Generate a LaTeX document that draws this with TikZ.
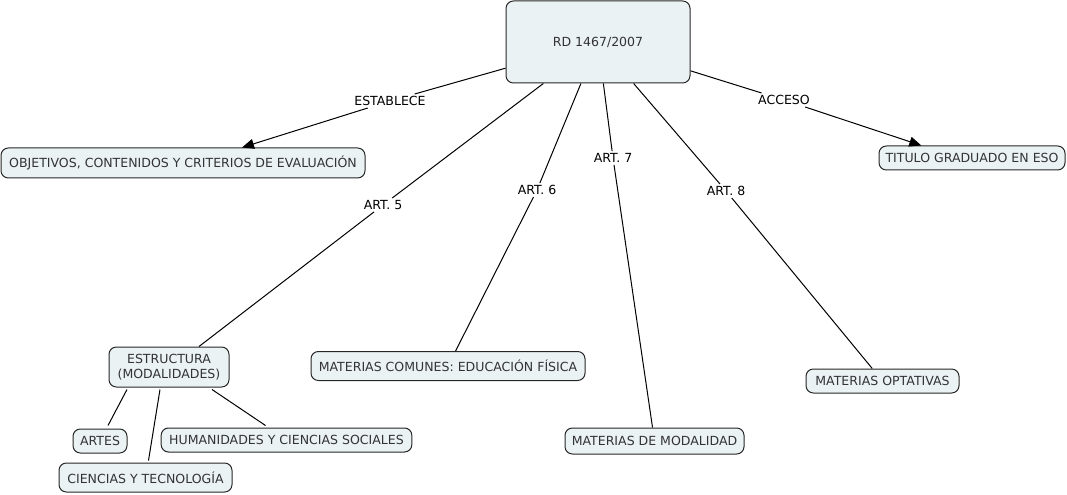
\documentclass[tikz,border=0pt]{standalone}
\usepackage{fontspec}
\setmainfont{DejaVu Sans}
\usetikzlibrary{arrows.meta}
\definecolor{boxfill}{HTML}{EBF2F4}
\definecolor{boxtext}{HTML}{333333}
\tikzset{
  concept/.style={draw=black!85, fill=boxfill, rounded corners=5.5pt, line width=0.75pt,
    text=boxtext, font=\fontsize{9.4}{11.2}\selectfont, align=center, inner sep=0pt},
  linklabel/.style={font=\fontsize{9.4}{10}\selectfont, text=black, inner sep=1.5pt, fill=white},
  link/.style={line width=0.75pt, draw=black},
  arrowlink/.style={link, -{Triangle[length=9pt,width=7.5pt]}}
}
\begin{document}
\begin{tikzpicture}[x=0.75pt,y=-0.75pt]
\useasboundingbox (0,0) rectangle (1067,495);
% concepts
\node[concept, minimum width=138pt, minimum height=61.5pt] (rd) at (598,42) {RD 1467/2007};
\node[concept, minimum width=273pt, minimum height=22.5pt] (obj) at (183,163) {OBJETIVOS, CONTENIDOS Y CRITERIOS DE EVALUACIÓN};
\node[concept, minimum width=139.5pt, minimum height=18pt] (tit) at (972,158) {TITULO GRADUADO EN ESO};
\node[concept, minimum width=90pt, minimum height=30pt] (estr) at (169,367) {ESTRUCTURA\\(MODALIDADES)};
\node[concept, minimum width=205.5pt, minimum height=21.75pt] (com) at (448,366) {MATERIAS COMUNES: EDUCACIÓN FÍSICA};
\node[concept, minimum width=40.5pt, minimum height=18pt] (artes) at (100,441) {ARTES};
\node[concept, minimum width=188pt, minimum height=18pt] (hum) at (286.5,440) {HUMANIDADES Y CIENCIAS SOCIALES};
\node[concept, minimum width=129.75pt, minimum height=21.75pt] (cien) at (145.5,477.5) {CIENCIAS Y TECNOLOGÍA};
\node[concept, minimum width=134.25pt, minimum height=19.5pt] (mod) at (654.5,441) {MATERIAS DE MODALIDAD};
\node[concept, minimum width=114.75pt, minimum height=18pt] (opt) at (882.5,381) {MATERIAS OPTATIVAS};
% link labels
\node[linklabel] (est) at (390,101) {ESTABLECE};
\node[linklabel] (acc) at (784,100) {ACCESO};
\node[linklabel] (a5) at (383,205) {ART. 5};
\node[linklabel] (a6) at (537,190) {ART. 6};
\node[linklabel] (a7) at (613,158) {ART. 7};
\node[linklabel] (a8) at (726,191) {ART. 8};
% connectors
\draw[link] (rd) -- (est);
\draw[arrowlink] (est) -- ([xshift=44.25pt]obj.north);
\draw[link] (rd) -- (acc);
\draw[arrowlink] (acc) -- ([xshift=-38pt]tit.north);
\draw[link] (rd) -- (a5);
\draw[link] (a5) -- ([xshift=22.5pt]estr.north);
\draw[link] (rd) -- (a6);
\draw[link] (a6) -- (com);
\draw[link] (rd) -- (a7);
\draw[link] (a7) -- (mod);
\draw[link] (rd) -- (a8);
\draw[link] (a8) -- (opt);
\draw[link] ([xshift=-31.5pt,yshift=-1.5pt]estr.south) -- ([xshift=6pt,yshift=2.25pt]artes.north);
\draw[link] ([xshift=-6.75pt,yshift=-1.5pt]estr.south) -- ([xshift=2.25pt,yshift=1.5pt]cien.north);
\draw[link] ([xshift=32.25pt,yshift=-1.5pt]estr.south) -- ([xshift=-15.75pt,yshift=1.5pt]hum.north);
\end{tikzpicture}
\end{document}
